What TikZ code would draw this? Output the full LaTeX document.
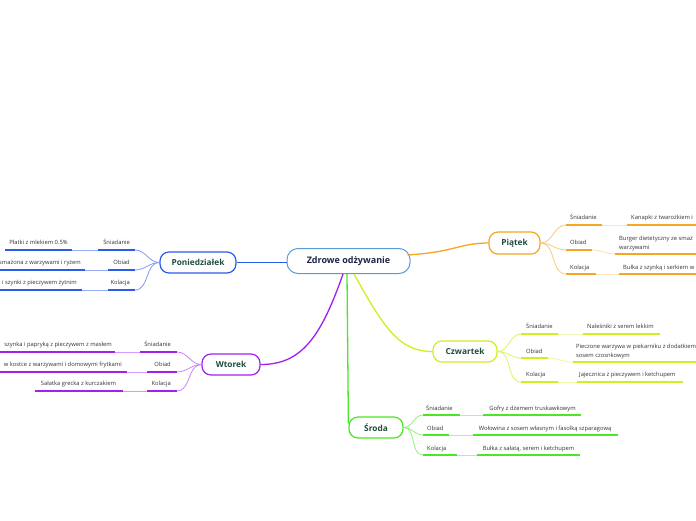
\documentclass[tikz,border=0pt]{standalone}
\usepackage{fontspec}
\setmainfont{Open Sans}
\definecolor{pcol}{HTML}{2B5BE8}
\definecolor{wcol}{HTML}{A020F0}
\definecolor{ptcol}{HTML}{F5A623}
\definecolor{ccol}{HTML}{D2EE1E}
\definecolor{scol}{HTML}{4CE626}
\definecolor{cenborder}{HTML}{5B9BD5}
\definecolor{titlegreen}{HTML}{1F4E3D}
\definecolor{centext}{HTML}{1C2644}
\definecolor{txtgray}{HTML}{333333}
\tikzset{
  topic/.style={draw, line width=1.2pt, rounded corners=9pt, fill=white, inner sep=0pt,
    font=\bfseries\fontsize{8.3}{10}\selectfont, text=titlegreen, minimum height=21pt},
  lbl/.style={inner sep=0pt, font=\fontsize{5.8}{9}\selectfont, text=txtgray},
  uline/.style={line width=1.5pt},
  thinline/.style={line width=0.7pt},
  branch/.style={line width=0.8pt},
  mainline/.style={line width=1.3pt},
}
\begin{document}
\begin{tikzpicture}[x=1pt,y=-1pt]
\useasboundingbox (0,0) rectangle (696,520);
\clip (0,0) rectangle (696,520);
\fill[white] (0,0) rectangle (696,520);

% central node
\node[draw=cenborder, line width=1pt, rounded corners=11pt, fill=white, inner sep=0pt,
  minimum width=123pt, minimum height=25pt, text=centext,
  font=\bfseries\fontsize{9}{11}\selectfont] (cen) at (348.5,261) {Zdrowe odżywanie};

% main topics
\node[topic, draw=pcol, minimum width=76pt] (P) at (198,262.5) {Poniedziałek};
\node[topic, draw=wcol, minimum width=58pt] (W) at (231,364.5) {Wtorek};
\node[topic, draw=ptcol, minimum width=51pt, minimum height=22pt] (Pt) at (514.5,243) {Piątek};
\node[topic, draw=ccol, minimum width=64pt] (C) at (465,351.5) {Czwartek};
\node[topic, draw=scol, minimum width=54pt] (S) at (376,427.5) {Środa};

% main connectors
\draw[mainline, pcol] (cen.west |- P.east) -- (P.east);
\draw[mainline, ptcol] ([xshift=-3pt,yshift=6pt]cen.east) .. controls (455,252) and (460,243) .. (Pt.west);
\draw[mainline, wcol] ([xshift=-5.5pt]cen.south) .. controls (320,340) and (300,364.5) .. (W.east);
\draw[mainline, ccol] ([xshift=5.5pt]cen.south) .. controls (385,330) and (400,351.5) .. (C.west);
\draw[mainline, scol] ([xshift=-1.5pt]cen.south) -- ([yshift=4pt]S.west);

% ---------------- Poniedzialek ----------------
\node[lbl, anchor=base east] (P1) at (130,244.5) {Śniadanie};
\node[lbl, anchor=base east] (P2) at (130,264.5) {Obiad};
\node[lbl, anchor=base east] (P3) at (130,284.5) {Kolacja};
\coordinate (P1a) at (98,250);  \coordinate (P1b) at (135,250);
\coordinate (P2a) at (108,270); \coordinate (P2b) at (135,270);
\coordinate (P3a) at (108,290); \coordinate (P3b) at (135,290);
\foreach \i in {1,2,3}{
  \draw[uline, pcol] (P\i a) -- (P\i b);
  \draw[branch, pcol!60] (P.west) to[out=180,in=0] (P\i b);
}
\node[lbl, anchor=base] (P1L) at (38.5,244.5) {Płatki z mlekiem 0.5\%};
\node[lbl, anchor=base east] (P2L) at (81,264.5) {smażona z warzywami i ryżem};
\node[lbl, anchor=base east] (P3L) at (77,284.5) {i szynki z pieczywem żytnim};
\coordinate (P1La) at (5,250);  \coordinate (P1Lb) at (72,250);
\coordinate (P2La) at (-5,270); \coordinate (P2Lb) at (85,270);
\coordinate (P3La) at (-5,290); \coordinate (P3Lb) at (82,290);
\foreach \i in {1,2,3}{
  \draw[uline, pcol] (P\i La) -- (P\i Lb);
  \draw[thinline, pcol!50] (P\i Lb) -- (P\i a);
}

% ---------------- Wtorek ----------------
\node[lbl, anchor=base east] (W1) at (171,346.5) {Śniadanie};
\node[lbl, anchor=base east] (W2) at (171,366.5) {Obiad};
\node[lbl, anchor=base east] (W3) at (171,385.5) {Kolacja};
\coordinate (W1a) at (140,352); \coordinate (W1b) at (177,352);
\coordinate (W2a) at (147,372); \coordinate (W2b) at (177,372);
\coordinate (W3a) at (147,391); \coordinate (W3b) at (177,391);
\foreach \i in {1,2,3}{
  \draw[uline, wcol] (W\i a) -- (W\i b);
  \draw[branch, wcol!55] (W.west) to[out=180,in=0] (W\i b);
}
\node[lbl, anchor=base east] (W1L) at (112,346.5) {szynka i papryką z pieczywem z masłem};
\node[lbl, anchor=base east] (W2L) at (122,366.5) {w kostce z warzywami i domowymi frytkami};
\node[lbl, anchor=base] (W3L) at (78.5,385.5) {Sałatka grecka z kurczakiem};
\coordinate (W1La) at (-5,352); \coordinate (W1Lb) at (115,352);
\coordinate (W2La) at (-5,372); \coordinate (W2Lb) at (127,372);
\coordinate (W3La) at (35,391); \coordinate (W3Lb) at (123,391);
\foreach \i in {1,2,3}{
  \draw[uline, wcol] (W\i La) -- (W\i Lb);
  \draw[thinline, wcol!45] (W\i Lb) -- (W\i a);
}

% ---------------- Piatek ----------------
\node[lbl, anchor=base west] (T1) at (570,219.5) {Śniadanie};
\node[lbl, anchor=base west] (T2) at (570,244.5) {Obiad};
\node[lbl, anchor=base west] (T3) at (570,269.5) {Kolacja};
\coordinate (T1a) at (566,225); \coordinate (T1b) at (602,225);
\coordinate (T2a) at (566,250); \coordinate (T2b) at (592,250);
\coordinate (T3a) at (566,274); \coordinate (T3b) at (596,274);
\foreach \i in {1,2,3}{
  \draw[uline, ptcol] (T\i a) -- (T\i b);
  \draw[branch, ptcol!60] (Pt.east) to[out=0,in=180] (T\i a);
}
\node[lbl, anchor=base west] (T1L) at (631,219.5) {Kanapki z twarożkiem i};
\node[lbl, anchor=north west, align=left] (T2L) at (619,235.5) {Burger dietetyczny ze smaż\\warzywami};
\node[lbl, anchor=base west] (T3L) at (623,269.5) {Bułka z szynką i serkiem w};
\coordinate (T1La) at (627,225); \coordinate (T1Lb) at (700,225);
\coordinate (T2La) at (615,254); \coordinate (T2Lb) at (700,254);
\coordinate (T3La) at (619,274); \coordinate (T3Lb) at (700,274);
\foreach \i in {1,2,3}{
  \draw[uline, ptcol] (T\i La) -- (T\i Lb);
  \draw[thinline, ptcol!40] (T\i b) to[out=0,in=180] (T\i La);
}

% ---------------- Czwartek ----------------
\node[lbl, anchor=base west] (C1) at (526,328.5) {Śniadanie};
\node[lbl, anchor=base west] (C2) at (526,353.5) {Obiad};
\node[lbl, anchor=base west] (C3) at (526,376.5) {Kolacja};
\coordinate (C1a) at (521,334); \coordinate (C1b) at (558,334);
\coordinate (C2a) at (521,358); \coordinate (C2b) at (548,358);
\coordinate (C3a) at (521,382); \coordinate (C3b) at (558,382);
\foreach \i in {1,2,3}{
  \draw[uline, ccol] (C\i a) -- (C\i b);
  \draw[branch, ccol!70] (C.east) to[out=0,in=180] (C\i a);
}
\node[lbl, anchor=base west] (C1L) at (587,328.5) {Naleśniki z serem lekkim};
\node[lbl, anchor=north west, align=left] (C2L) at (576,343.5) {Pieczone warzywa w piekarniku z dodatkiem\\sosem czosnkowym};
\node[lbl, anchor=base west] (C3L) at (579,376.5) {Jajecznica z pieczywem i ketchupem};
\coordinate (C1La) at (583,334); \coordinate (C1Lb) at (660,334);
\coordinate (C2La) at (573,362); \coordinate (C2Lb) at (700,362);
\coordinate (C3La) at (577,382); \coordinate (C3Lb) at (683,382);
\foreach \i in {1,2,3}{
  \draw[uline, ccol] (C\i La) -- (C\i Lb);
  \draw[thinline, ccol!50] (C\i b) to[out=0,in=180] (C\i La);
}

% ---------------- Sroda ----------------
\node[lbl, anchor=base west] (S1) at (426,410.5) {Śniadanie};
\node[lbl, anchor=base west] (S2) at (427,430.5) {Obiad};
\node[lbl, anchor=base west] (S3) at (427,450.5) {Kolacja};
\coordinate (S1a) at (423,415); \coordinate (S1b) at (460,415);
\coordinate (S2a) at (423,435); \coordinate (S2b) at (449,435);
\coordinate (S3a) at (423,455); \coordinate (S3b) at (457,455);
\foreach \i in {1,2,3}{
  \draw[uline, scol] (S\i a) -- (S\i b);
  \draw[branch, scol!60] (S.east) to[out=0,in=180] (S\i a);
}
\node[lbl, anchor=base] (S1L) at (532.5,410.5) {Gofry z dżemem truskawkowym};
\node[lbl, anchor=base] (S2L) at (545,430.5) {Wołowina z sosem własnym i fasolką szparagową};
\node[lbl, anchor=base] (S3L) at (528.5,450.5) {Bułka z sałatą, serem i ketchupem};
\coordinate (S1La) at (483,415); \coordinate (S1Lb) at (581,415);
\coordinate (S2La) at (473,435); \coordinate (S2Lb) at (618,435);
\coordinate (S3La) at (477,455); \coordinate (S3Lb) at (580,455);
\foreach \i in {1,2,3}{
  \draw[uline, scol] (S\i La) -- (S\i Lb);
  \draw[thinline, scol!45] (S\i b) -- (S\i La);
}
\end{tikzpicture}
\end{document}
